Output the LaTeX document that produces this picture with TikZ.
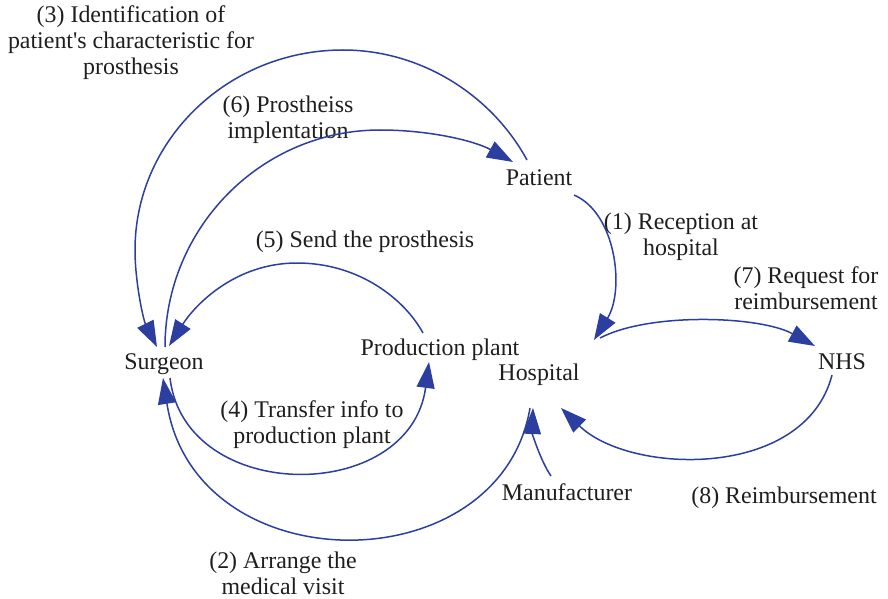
\documentclass[tikz,border=0pt]{standalone}
\usepackage{fontspec}
\setmainfont{Liberation Serif}
\usetikzlibrary{arrows.meta}

\definecolor{flowblue}{RGB}{44,62,160}
\definecolor{ink}{RGB}{30,30,30}

\tikzset{
  actor/.style={inner sep=0pt, text=ink, font=\fontsize{24}{26}\selectfont},
  caption/.style={inner sep=0pt, text=ink, align=center, font=\fontsize{24}{26}\selectfont},
  flow/.style={draw=flowblue, line width=1.5bp,
    -{Triangle[length=26bp,width=18bp,fill=flowblue]}},
}

\begin{document}
\begin{tikzpicture}[x=1bp,y=-1bp]
\useasboundingbox (0,0) rectangle (888,599);

% actors
\node[actor] (surgeon) at (164,364) {Surgeon};
\node[actor] (patient) at (539,178) {Patient};
\node[actor] (plant)   at (440,350) {Production plant};
\node[actor] (hospital) at (539,375) {Hospital};
\node[actor] (nhs)     at (842,362) {NHS};
\node[actor] (maker)   at (567,492) {Manufacturer};

% flow captions
\node[caption] (c3) at (131,43) {(3) Identification of\\patient\textquotesingle s characteristic for\\prosthesis};
\node[caption] (c6) at (288,120) {(6) Prostheiss\\implentation};
\node[caption] (c5) at (365,242) {(5) Send the prosthesis};
\node[caption] (c1) at (681,237) {(1) Reception at\\hospital};
\node[caption] (c7) at (806,288) {(7) Request for\\reimbursement};
\node[caption] (c4) at (312,425) {(4) Transfer info to\\production plant};
\node[caption] (c8) at (784,498) {(8) Reimbursement};
\node[caption] (c2) at (283,573) {(2) Arrange the\\medical visit};

% (1) patient -> hospital
\draw[flow] ([shift={(35,17)}]patient.center)
  .. controls (616,213) and (625,290) .. ([shift={(55,-35)}]hospital.center);
% (7) hospital -> NHS
\draw[flow] ([shift={(61,-37)}]hospital.center)
  .. controls (650,312) and (760,316) .. ([shift={(-27,-16)}]nhs.center);
% (8) NHS -> hospital
\draw[flow] ([shift={(-10,13)}]nhs.center)
  .. controls (805,480) and (630,475) .. ([shift={(22,33)}]hospital.center);
% manufacturer -> hospital
\draw[flow] ([shift={(-16,-16)}]maker.center)
  .. controls (540,460) and (532,432) .. ([shift={(-6,33)}]hospital.center);
% (2) hospital -> surgeon
\draw[flow] ([shift={(-9,33)}]hospital.center)
  .. controls (500,585) and (195,585) .. ([shift={(-1,14)}]surgeon.center);
% (4) surgeon -> production plant
\draw[flow] ([shift={(6,14)}]surgeon.center)
  .. controls (185,505) and (410,505) .. ([shift={(-11,12)}]plant.center);
% (5) production plant -> surgeon
\draw[flow] ([shift={(-17,-17)}]plant.center)
  .. controls (405,300) and (360,263) .. (297,263)
  .. controls (235,263) and (195,305) .. ([shift={(5,-18)}]surgeon.center);
% (3) patient -> surgeon
\draw[flow] ([shift={(-12,-18)}]patient.center)
  .. controls (491,94) and (420,50) .. (343,50)
  .. controls (228,50) and (135,140) .. (135,250)
  .. controls (135,281) and (143,319) .. ([shift={(-7,-17)}]surgeon.center);
% (6) surgeon -> patient
\draw[flow] ([shift={(1,-17)}]surgeon.center)
  .. controls (165,228) and (261,130) .. (380,130)
  .. controls (430,130) and (475,141) .. ([shift={(-26,-16)}]patient.center);
\end{tikzpicture}
\end{document}
